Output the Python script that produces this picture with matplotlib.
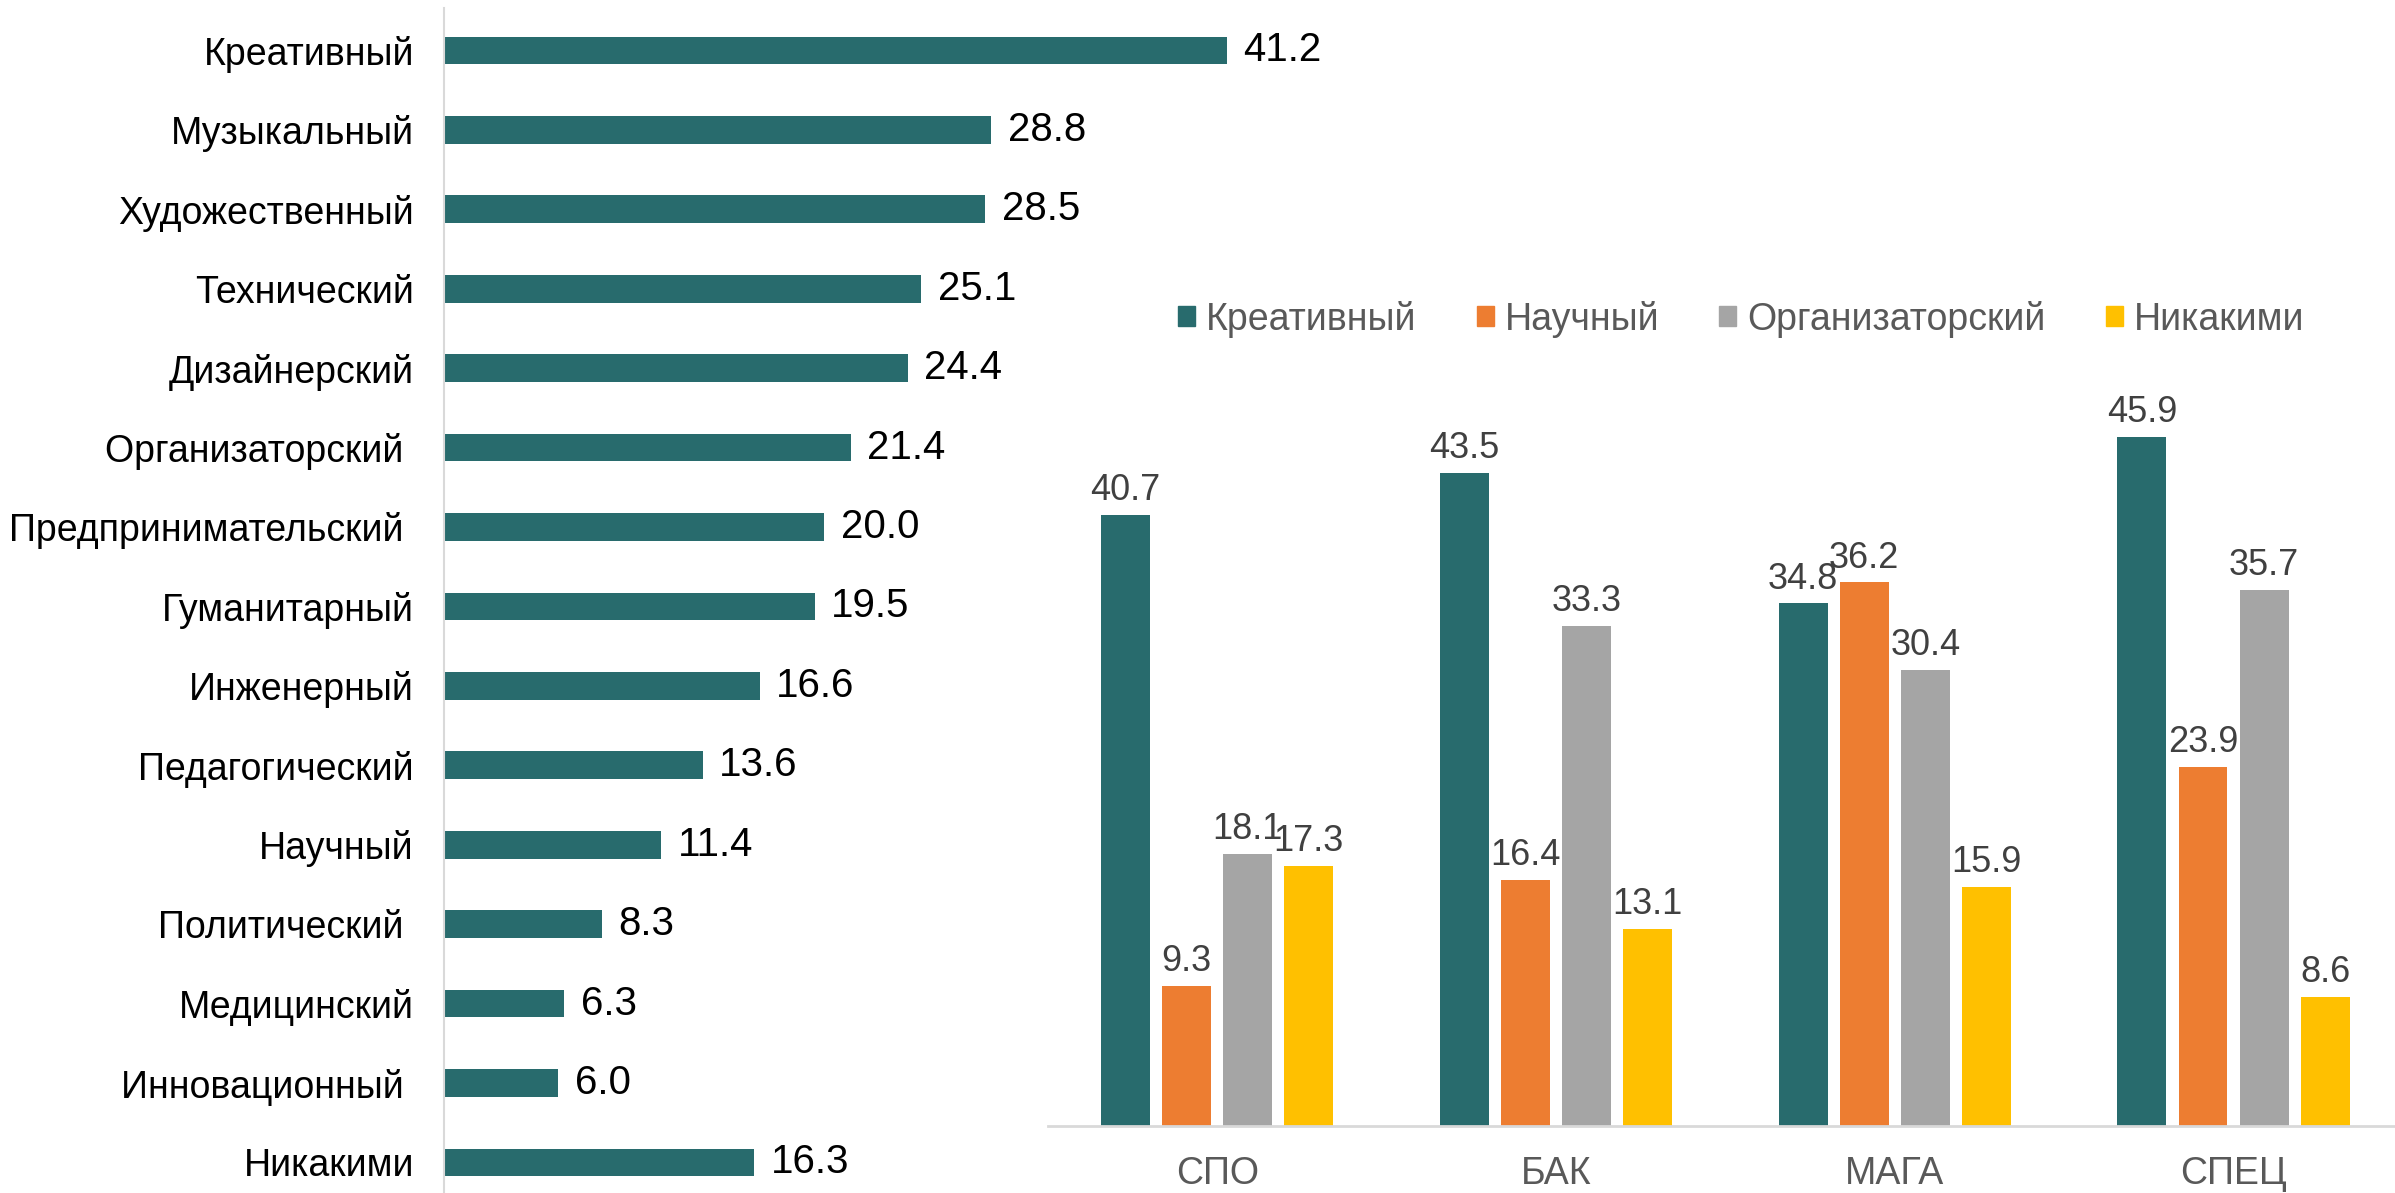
import numpy as np
from matplotlib import pyplot as plt
from matplotlib.patches import Patch

plt.rcParams["font.family"] = ["Liberation Sans", "DejaVu Sans"]

# left chart: talent types, all respondents
talents = [
    "Креативный", "Музыкальный", "Художественный", "Технический",
    "Дизайнерский", "Организаторский ", "Предпринимательский ", "Гуманитарный",
    "Инженерный", "Педагогический", "Научный", "Политический ",
    "Медицинский", "Инновационный ", "Никакими",
]
talent_values = [41.2, 28.8, 28.5, 25.1, 24.4, 21.4, 20.0, 19.5,
                 16.6, 13.6, 11.4, 8.3, 6.3, 6.0, 16.3]

# right chart: by education level
levels = ["СПО", "БАК", "МАГА", "СПЕЦ"]
series_names = ["Креативный", "Научный", "Организаторский", "Никакими"]
kreativ = [40.7, 43.5, 34.8, 45.9]
nauch = [9.3, 16.4, 36.2, 23.9]
organiz = [18.1, 33.3, 30.4, 35.7]
nikakimi = [17.3, 13.1, 15.9, 8.6]

TEAL = "#286B6D"
COLORS = [TEAL, "#ED7D31", "#A5A5A5", "#FFC000"]
W, H = 1568.0, 781.0  # layout measured on the shrunk reference

fig = plt.figure(figsize=(23.95, 11.93), dpi=100, facecolor="w")

# ---- left horizontal bars
px_unit = (803 - 291) / 41.2
xmax = 50
ax1 = fig.add_axes([291 / W, 0.0, xmax * px_unit / W, (781 - 5) / H])
y = np.arange(len(talents))
ax1.barh(y, talent_values, height=0.35, color=TEAL)
ax1.set_xlim(0, xmax)
ax1.set_ylim(14 + 20 / 52, -28 / 52)
ax1.set_yticks(y)
ax1.set_yticklabels(talents, fontsize=27, color="black")
ax1.tick_params(axis="y", length=0, pad=22)
ax1.set_xticks([])
for s in ["top", "right", "bottom"]:
    ax1.spines[s].set_visible(False)
ax1.spines["left"].set_color("#D9D9D9")
ax1.spines["left"].set_linewidth(1.5)
for yi, v in zip(y, talent_values):
    ax1.annotate("{:.1f}".format(v), (v, yi), xytext=(12, 0),
                 textcoords="offset points", va="center", ha="left",
                 fontsize=29, color="black")

# ---- right grouped bars
group_px = 221.8
py_unit = (737 - 286) / 45.9
ymax = 50
left_px = 686
ax2 = fig.add_axes([left_px / W, 1 - 737 / H, 4 * group_px / W, ymax * py_unit / H])
x = np.arange(len(levels))
step = 40 / group_px
bw = 32 / group_px
for i, (name, vals) in enumerate(zip(series_names, [kreativ, nauch, organiz, nikakimi])):
    pos = x + (i - 1.5) * step
    ax2.bar(pos, vals, width=bw, color=COLORS[i], label=name)
    for p, v in zip(pos, vals):
        ax2.annotate("{:.1f}".format(v), (p, v), xytext=(0, 5),
                     textcoords="offset points", ha="center", va="bottom",
                     fontsize=26, color="#404040")
ax2.set_xlim(-0.5, 3.5)
ax2.set_ylim(0, ymax)
ax2.set_xticks(x)
ax2.set_xticklabels(levels, fontsize=27, color="#595959")
ax2.tick_params(axis="x", length=0, pad=22)
ax2.set_yticks([])
for s in ["top", "right", "left"]:
    ax2.spines[s].set_visible(False)
ax2.spines["bottom"].set_color("#D9D9D9")
ax2.spines["bottom"].set_linewidth(2)

handles = [Patch(color=c, label=n) for c, n in zip(COLORS, series_names)]
leg = fig.legend(handles=handles, loc="center", ncol=4,
                 bbox_to_anchor=(1140 / W, 1 - 209 / H), frameon=False,
                 fontsize=27, handlelength=0.45, handleheight=0.45,
                 handletextpad=0.3, columnspacing=1.6)
for t in leg.get_texts():
    t.set_color("#595959")

plt.savefig("out.png", dpi=100, facecolor="w")
